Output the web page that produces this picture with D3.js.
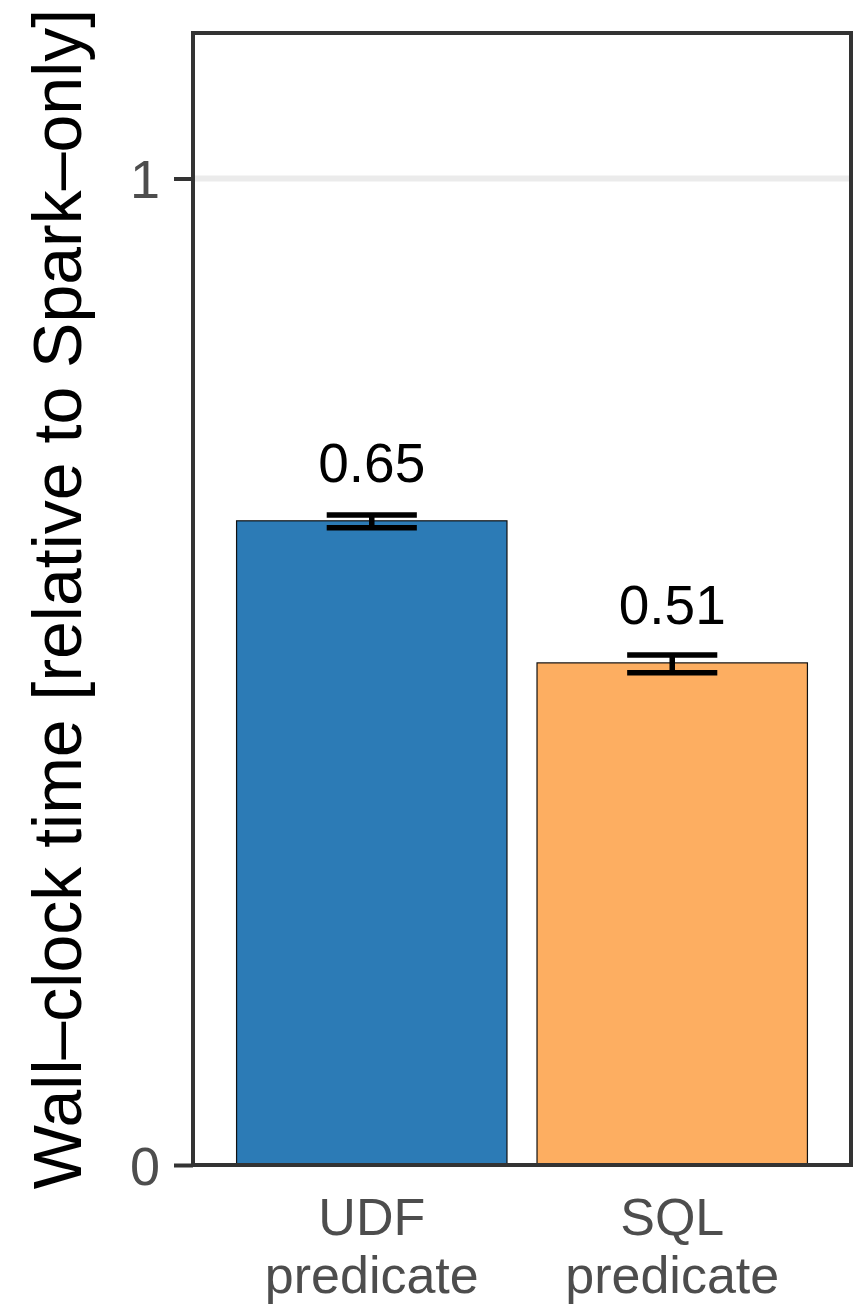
<!DOCTYPE html>
<html>
<head>
<meta charset="utf-8">
<script src="https://cdn.jsdelivr.net/npm/d3@7"></script>
<style>
  html, body { margin: 0; padding: 0; background: #fff; }
  svg { display: block; font-family: "Liberation Sans", Arial, Helvetica, sans-serif; }
</style>
</head>
<body>
<svg id="chart" width="864" height="1305"></svg>
<script>
// data
const categories = ['UDF predicate', 'SQL predicate'];
const means = [0.653, 0.509];
const lower = [0.646, 0.499];
const upper = [0.659, 0.517];
const colors = ['#2c7bb6', '#fdae61'];
const yTicks = [0, 1];
const yTitle = 'Wall\u2013clock time [relative to Spark\u2013only]';

const rows = categories.map((c, i) => ({
  cat: c, mean: means[i], lo: lower[i], hi: upper[i], color: colors[i]
}));

const panel = { left: 193, top: 33, right: 851, bottom: 1165 };
const svg = d3.select('#chart');

const x = d3.scaleBand()
  .domain(categories)
  .range([panel.left, panel.right])
  .paddingInner(0.1)
  .paddingOuter(0.145);

const y = d3.scaleLinear()
  .domain([0, 1.1475])
  .range([panel.bottom, panel.top]);

// grid line at the y ticks
svg.append('g')
  .selectAll('line')
  .data(yTicks.filter(d => d > 0))
  .join('line')
  .attr('x1', panel.left)
  .attr('x2', panel.right)
  .attr('y1', d => y(d))
  .attr('y2', d => y(d))
  .attr('stroke', '#ebebeb')
  .attr('stroke-width', 6);

// bars
svg.append('g')
  .selectAll('rect')
  .data(rows)
  .join('rect')
  .attr('x', d => x(d.cat))
  .attr('width', x.bandwidth())
  .attr('y', d => y(d.mean))
  .attr('height', d => y(0) - y(d.mean))
  .attr('fill', d => d.color)
  .attr('stroke', '#111')
  .attr('stroke-width', 1.2);

// error bars
const capHalf = x.step() * 0.15;
const eb = svg.append('g')
  .attr('stroke', '#000')
  .attr('stroke-width', 5.5)
  .selectAll('g')
  .data(rows)
  .join('g');
eb.append('line')
  .attr('x1', d => x(d.cat) + x.bandwidth() / 2)
  .attr('x2', d => x(d.cat) + x.bandwidth() / 2)
  .attr('y1', d => y(d.lo))
  .attr('y2', d => y(d.hi));
eb.append('line')
  .attr('x1', d => x(d.cat) + x.bandwidth() / 2 - capHalf)
  .attr('x2', d => x(d.cat) + x.bandwidth() / 2 + capHalf)
  .attr('y1', d => y(d.hi))
  .attr('y2', d => y(d.hi));
eb.append('line')
  .attr('x1', d => x(d.cat) + x.bandwidth() / 2 - capHalf)
  .attr('x2', d => x(d.cat) + x.bandwidth() / 2 + capHalf)
  .attr('y1', d => y(d.lo))
  .attr('y2', d => y(d.lo));

// value labels
svg.append('g')
  .selectAll('text')
  .data(rows)
  .join('text')
  .attr('x', d => x(d.cat) + x.bandwidth() / 2)
  .attr('y', d => y(d.mean) - 39)
  .attr('text-anchor', 'middle')
  .attr('font-size', 55)
  .attr('fill', '#000')
  .text(d => d3.format('.2f')(d.mean));

// panel border
svg.append('rect')
  .attr('x', panel.left)
  .attr('y', panel.top)
  .attr('width', panel.right - panel.left)
  .attr('height', panel.bottom - panel.top)
  .attr('fill', 'none')
  .attr('stroke', '#333333')
  .attr('stroke-width', 4);

// y axis
const yAxis = svg.append('g')
  .attr('transform', `translate(${panel.left},0)`)
  .call(d3.axisLeft(y).tickValues(yTicks).tickFormat(d3.format('d')).tickSize(19).tickPadding(14));
yAxis.select('.domain').remove();
yAxis.selectAll('.tick line').attr('stroke', '#333333').attr('stroke-width', 4);
yAxis.selectAll('.tick text')
  .attr('font-size', 54)
  .attr('fill', '#4d4d4d')
  .attr('dy', '0.36em')
  .style('font-family', '"Liberation Sans", Arial, sans-serif');

// x labels, two lines each (separate texts so lines do not collide)
const xLab = svg.append('g')
  .selectAll('g')
  .data(categories)
  .join('g')
  .attr('transform', d => `translate(${x(d) + x.bandwidth() / 2},0)`);
xLab.selectAll('text')
  .data(d => d.split(' '))
  .join('text')
  .attr('y', (d, i) => 1235 + i * 58)
  .attr('text-anchor', 'middle')
  .attr('font-size', 52)
  .attr('fill', '#4d4d4d')
  .text(d => d);

// y title
svg.append('text')
  .attr('transform', `translate(81,${(panel.top + panel.bottom) / 2}) rotate(-90)`)
  .attr('text-anchor', 'middle')
  .attr('font-size', 68)
  .attr('fill', '#000')
  .text(yTitle);
</script>
</body>
</html>
